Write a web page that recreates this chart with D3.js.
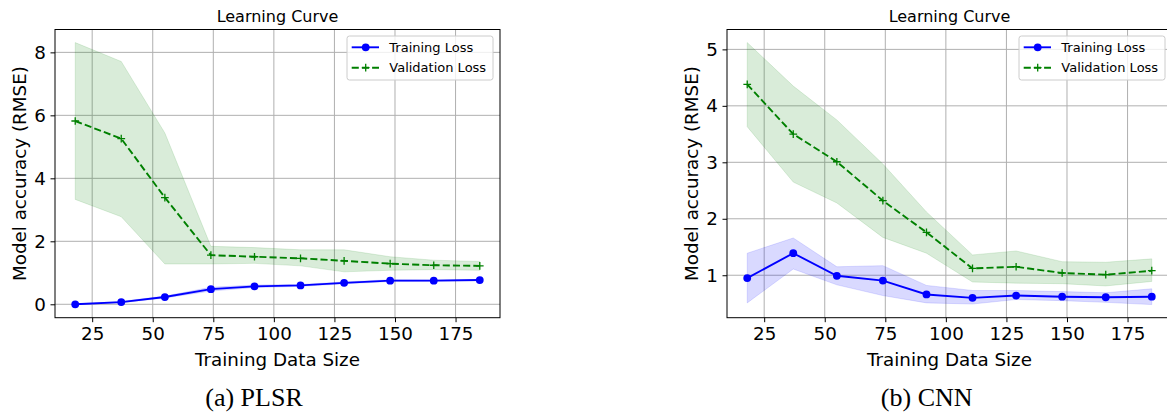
<!DOCTYPE html>
<html>
<head>
<meta charset="utf-8">
<script src="https://cdn.jsdelivr.net/npm/d3@7"></script>
<style>
  html, body { margin: 0; padding: 0; background: #fff; }
  svg { display: block; font-family: "DejaVu Sans", sans-serif; }
  .caption { font-family: "Liberation Serif", "DejaVu Serif", serif; }
</style>
</head>
<body>
<svg id="fig" width="1167" height="419"></svg>
<script>
// ── Data ─────────────────────────────────────────────────────────
const trainSizes = [18, 37, 55, 74, 92, 111, 129, 148, 166, 185];
const xTicks     = [25, 50, 75, 100, 125, 150, 175];

// (a) PLSR
const plsrTrain   = [0.00, 0.07, 0.23, 0.48, 0.57, 0.60, 0.68, 0.75, 0.75, 0.77];
const plsrTrainLo = [-0.01, 0.05, 0.20, 0.42, 0.53, 0.57, 0.65, 0.72, 0.73, 0.75];
const plsrTrainHi = [0.01, 0.09, 0.26, 0.54, 0.61, 0.63, 0.71, 0.78, 0.77, 0.79];
const plsrVal     = [5.82, 5.26, 3.39, 1.56, 1.51, 1.46, 1.38, 1.29, 1.24, 1.22];
const plsrValLo   = [3.33, 2.78, 1.28, 1.28, 1.30, 1.22, 1.03, 1.08, 1.10, 1.08];
const plsrValHi   = [8.31, 7.71, 5.44, 1.84, 1.80, 1.73, 1.73, 1.51, 1.40, 1.36];
const plsrYTicks  = [0, 2, 4, 6, 8];

// (b) CNN
const cnnTrain   = [0.95, 1.39, 0.99, 0.905, 0.66, 0.60, 0.64, 0.62, 0.61, 0.62];
const cnnTrainLo = [0.51, 1.11, 0.83, 0.64, 0.51, 0.49, 0.57, 0.55, 0.52, 0.48];
const cnnTrainHi = [1.39, 1.66, 1.15, 1.17, 0.82, 0.73, 0.73, 0.71, 0.69, 0.76];
const cnnVal     = [4.38, 3.50, 3.01, 2.32, 1.76, 1.12, 1.15, 1.04, 1.01, 1.08];
const cnnValLo   = [3.63, 2.65, 2.28, 1.67, 1.39, 0.88, 0.86, 0.85, 0.81, 0.89];
const cnnValHi   = [5.12, 4.35, 3.75, 2.97, 2.12, 1.36, 1.43, 1.24, 1.23, 1.29];
const cnnYTicks  = [1, 2, 3, 4, 5];

const titleText  = "Learning Curve";
const xLabelText = "Training Data Size";
const yLabelText = "Model accuracy (RMSE)";
const legendText = ["Training Loss", "Validation Loss"];

// ── Config ────────────────────────────────────────────────────────
const AX = { left: 55, right: 500, top: 29.5, bottom: 317.7 };
const PANEL_SHIFT = 672;
const BLUE  = "#0000ff";
const GREEN = "#008000";
const LW    = 1.9;
const FS_TICK = 18.3, FS_LABEL = 18.3, FS_TITLE = 16, FS_LEGEND = 13;

const svg = d3.select("#fig");

function padded(values) {
  const [lo, hi] = d3.extent(values);
  const m = (hi - lo) * 0.05;
  return [lo - m, hi + m];
}

// ── Panel ────────────────────────────────────────────────────────
function drawPanel(offset, p) {
  const g = svg.append("g").attr("transform", `translate(${offset},0)`);

  const x = d3.scaleLinear().domain(padded(trainSizes)).range([AX.left, AX.right]);
  const y = d3.scaleLinear()
    .domain(padded([...p.trainLo, ...p.trainHi, ...p.valLo, ...p.valHi, ...p.train, ...p.val]))
    .range([AX.bottom, AX.top]);

  // grid
  g.append("g").selectAll("line").data(xTicks).join("line")
    .attr("x1", d => x(d)).attr("x2", d => x(d))
    .attr("y1", AX.top).attr("y2", AX.bottom)
    .attr("stroke", "#b0b0b0").attr("stroke-width", 1);
  g.append("g").selectAll("line").data(p.yTicks).join("line")
    .attr("x1", AX.left).attr("x2", AX.right)
    .attr("y1", d => y(d)).attr("y2", d => y(d))
    .attr("stroke", "#b0b0b0").attr("stroke-width", 1);

  // bands
  const area = (lo, hi) => d3.area()
    .x((d, i) => x(trainSizes[i]))
    .y0((d, i) => y(lo[i]))
    .y1((d, i) => y(hi[i]))(trainSizes);

  g.append("path").attr("d", area(p.trainLo, p.trainHi))
    .attr("fill", BLUE).attr("fill-opacity", 0.15)
    .attr("stroke", BLUE).attr("stroke-opacity", 0.12).attr("stroke-width", 1);
  g.append("path").attr("d", area(p.valLo, p.valHi))
    .attr("fill", GREEN).attr("fill-opacity", 0.15)
    .attr("stroke", GREEN).attr("stroke-opacity", 0.12).attr("stroke-width", 1);

  const line = d3.line().x((d, i) => x(trainSizes[i])).y(d => y(d));

  // training loss
  g.append("path").attr("d", line(p.train))
    .attr("fill", "none").attr("stroke", BLUE).attr("stroke-width", LW);
  g.append("g").selectAll("circle").data(p.train).join("circle")
    .attr("cx", (d, i) => x(trainSizes[i])).attr("cy", d => y(d))
    .attr("r", 3.9).attr("fill", BLUE);

  // validation loss
  g.append("path").attr("d", line(p.val))
    .attr("fill", "none").attr("stroke", GREEN).attr("stroke-width", LW)
    .attr("stroke-dasharray", "7.1,3.1");
  g.append("g").selectAll("path").data(p.val).join("path")
    .attr("d", (d, i) => {
      const cx = x(trainSizes[i]), cy = y(d), s = 3.85;
      return `M${cx - s},${cy}H${cx + s}M${cx},${cy - s}V${cy + s}`;
    })
    .attr("stroke", GREEN).attr("stroke-width", 1.3);

  // frame
  g.append("rect")
    .attr("x", AX.left).attr("y", AX.top)
    .attr("width", AX.right - AX.left).attr("height", AX.bottom - AX.top)
    .attr("fill", "none").attr("stroke", "#000").attr("stroke-width", 1);

  // axes
  const xAxis = g.append("g").attr("transform", `translate(0,${AX.bottom})`)
    .call(d3.axisBottom(x).tickValues(xTicks).tickSize(4.5).tickPadding(4.5).tickFormat(d3.format("d")));
  const yAxis = g.append("g").attr("transform", `translate(${AX.left},0)`)
    .call(d3.axisLeft(y).tickValues(p.yTicks).tickSize(4.5).tickPadding(4.5).tickFormat(d3.format("d")));
  [xAxis, yAxis].forEach(a => {
    a.select(".domain").remove();
    a.selectAll("line").attr("stroke", "#000");
    a.selectAll("text").attr("font-size", FS_TICK).attr("fill", "#000")
      .attr("font-family", "DejaVu Sans");
  });

  // labels
  const cx = (AX.left + AX.right) / 2;
  g.append("text").attr("x", cx).attr("y", 21.7)
    .attr("text-anchor", "middle").attr("font-size", FS_TITLE).text(titleText);
  g.append("text").attr("x", cx).attr("y", 366)
    .attr("text-anchor", "middle").attr("font-size", FS_LABEL).text(xLabelText);
  g.append("text")
    .attr("transform", `translate(25.5,${(AX.top + AX.bottom) / 2}) rotate(-90)`)
    .attr("text-anchor", "middle").attr("font-size", FS_LABEL).text(yLabelText);

  // legend
  const lg = g.append("g").attr("transform", `translate(${AX.right - 153},36)`);
  lg.append("rect").attr("width", 146).attr("height", 44).attr("rx", 2.5)
    .attr("fill", "#fff").attr("fill-opacity", 0.8)
    .attr("stroke", "#cccccc").attr("stroke-width", 1);
  const rows = [11.3, 31.7];
  lg.append("line").attr("x1", 4.7).attr("x2", 32).attr("y1", rows[0]).attr("y2", rows[0])
    .attr("stroke", BLUE).attr("stroke-width", LW);
  lg.append("circle").attr("cx", 18.7).attr("cy", rows[0]).attr("r", 3.9).attr("fill", BLUE);
  lg.append("line").attr("x1", 4.7).attr("x2", 32).attr("y1", rows[1]).attr("y2", rows[1])
    .attr("stroke", GREEN).attr("stroke-width", LW).attr("stroke-dasharray", "7.1,3.1");
  lg.append("path")
    .attr("d", `M${18.7 - 3.85},${rows[1]}H${18.7 + 3.85}M18.7,${rows[1] - 3.85}V${rows[1] + 3.85}`)
    .attr("stroke", GREEN).attr("stroke-width", 1.3);
  lg.selectAll("text.lt").data(legendText).join("text").attr("class", "lt")
    .attr("x", 42.3).attr("y", (d, i) => rows[i])
    .attr("dy", "0.36em").attr("font-size", FS_LEGEND).text(d => d);

  // caption
  g.append("text").attr("class", "caption")
    .attr("x", p.captionX).attr("y", 406)
    .attr("text-anchor", "middle").attr("font-size", 26).text(p.caption);
}

drawPanel(0, {
  train: plsrTrain, trainLo: plsrTrainLo, trainHi: plsrTrainHi,
  val: plsrVal, valLo: plsrValLo, valHi: plsrValHi,
  yTicks: plsrYTicks, caption: "(a) PLSR", captionX: 254
});
drawPanel(PANEL_SHIFT, {
  train: cnnTrain, trainLo: cnnTrainLo, trainHi: cnnTrainHi,
  val: cnnVal, valLo: cnnValLo, valHi: cnnValHi,
  yTicks: cnnYTicks, caption: "(b) CNN", captionX: 254.7
});
</script>
</body>
</html>
